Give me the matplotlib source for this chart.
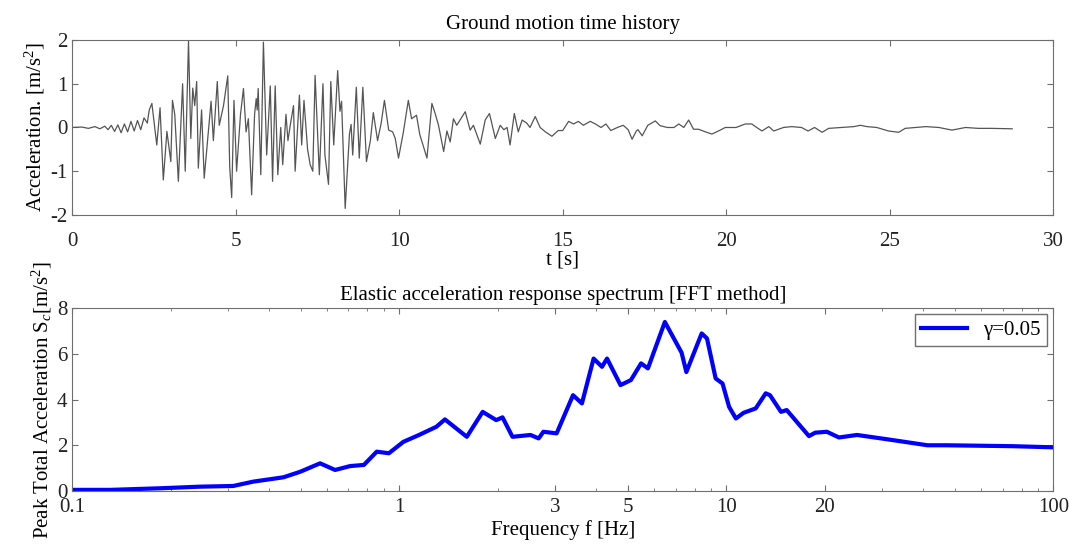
import matplotlib
matplotlib.use('Agg')
import matplotlib.pyplot as plt
from matplotlib.ticker import FixedLocator, NullFormatter, LogLocator
import numpy as np

plt.rcParams['font.family'] = ['Liberation Serif', 'DejaVu Serif']
plt.rcParams['mathtext.fontset'] = 'custom'
plt.rcParams['mathtext.rm'] = 'Liberation Serif'
plt.rcParams['mathtext.it'] = 'Liberation Serif:italic'
plt.rcParams['axes.unicode_minus'] = False

# ground motion record
t = [0, 0.3, 0.5, 0.7, 0.85, 1.0, 1.1, 1.2, 1.3, 1.4, 1.5, 1.6, 1.7, 1.8, 1.9, 2.0, 2.1, 2.2, 2.3, 2.36,
     2.44, 2.59, 2.69, 2.79, 2.9, 3.02, 3.07, 3.14, 3.25, 3.38, 3.46, 3.56, 3.63, 3.69, 3.75, 3.81, 3.86,
     3.96, 4.04, 4.12, 4.25, 4.32, 4.44, 4.5, 4.63, 4.76, 4.82, 4.88, 4.95, 5.03, 5.15, 5.24, 5.32, 5.39,
     5.49, 5.58, 5.63, 5.66, 5.69, 5.77, 5.85, 5.95, 6.06, 6.13, 6.21, 6.29, 6.38, 6.44, 6.54, 6.6, 6.67,
     6.77, 6.82, 6.95, 7.02, 7.09, 7.2, 7.28, 7.36, 7.43, 7.56, 7.67, 7.73, 7.84, 7.91, 8.0, 8.12, 8.19,
     8.24, 8.35, 8.48, 8.53, 8.58, 8.69, 8.78, 8.89, 9.0, 9.12, 9.21, 9.34, 9.45, 9.55, 9.68, 9.8, 9.88,
     9.98, 10.13, 10.28, 10.38, 10.53, 10.63, 10.85, 11.0, 11.1, 11.2, 11.36, 11.46, 11.56, 11.66, 11.76,
     11.86, 12.02, 12.17, 12.27, 12.48, 12.63, 12.76, 12.94, 13.09, 13.2, 13.3, 13.39, 13.52, 13.64,
     13.76, 13.9, 14.0, 14.16, 14.31, 14.47, 14.67, 14.86, 15.0, 15.18, 15.33, 15.48, 15.63, 15.84, 16.0,
     16.17, 16.32, 16.47, 16.67, 16.85, 17.0, 17.12, 17.25, 17.3, 17.43, 17.6, 17.83, 17.98, 18.2, 18.4,
     18.55, 18.7, 18.85, 19.0, 19.15, 19.4, 19.56, 19.76, 19.97, 20.3, 20.58, 20.78, 20.93, 21.09, 21.3,
     21.45, 21.75, 22.0, 22.3, 22.5, 22.7, 22.93, 23.13, 23.5, 23.9, 24.1, 24.3, 24.6, 24.96, 25.27,
     25.47, 25.8, 26.1, 26.5, 26.9, 27.31, 27.7, 28.1, 28.74]
acc = [0, 0.01, -0.02, 0.02, -0.03, 0.03, -0.05, 0.05, -0.09, 0.06, -0.12, 0.08, -0.1, 0.14, -0.08, 0.16, -0.05, 0.22, 0.1, 0.4,
       0.55, -0.4, 0.45, -1.2, -0.09, -0.78, 0.62, 0.3, -1.23, 1.0, -1.0, 1.98, -0.25, 0.9, 0.5, 1.05, -0.93,
       0.4, -1.16, -0.5, 0.6, -0.3, 1.05, 0.05, 0.5, 1.18, -0.9, -1.6, 0.62, -1.0, 0.3, 0.89, -0.1, 0.2,
       -1.54, 0.3, 0.66, 0.4, 0.89, -1.08, 1.95, -0.63, 0.95, -1.23, 0.95, -1.08, 0.0, -0.85, 0.3, -0.3, 0.05,
       0.5, -1.0, 0.74, -0.4, 0.62, -0.5, -0.85, -1.0, 1.19, -1.08, 1.0, -0.63, -1.3, 1.05, -0.4, 1.3, 0.37,
       0.6, -1.85, -0.15, 0.07, -0.63, 0.92, -0.7, 0.92, -0.78, -0.3, 0.34, -0.3, 0.1, 0.62, -0.06, -0.1, -0.25,
       -0.7, -0.1, 0.62, 0.2, 0.28, -0.16, -0.7, 0.55, 0.32, 0.06, -0.55, -0.08, -0.33, 0.2, 0.05,
       0.17, 0.36, -0.06, 0.05, -0.38, 0.17, 0.32, -0.25, 0.05, -0.05, 0.0, -0.4, 0.32, -0.1,
       0.17, 0.1, 0.0, 0.25, 0.0, -0.1, -0.2, -0.07, -0.07, 0.14, 0.08, 0.14, 0.05, 0.14, 0.08,
       0.0, 0.08, -0.07, 0.0, 0.05, -0.05, -0.27, -0.08, -0.05, -0.19, 0.05, 0.15, 0.04, 0.0, 0.0,
       0.08, 0.0, 0.17, -0.04, -0.04, -0.11, -0.15, -0.08, 0.0, 0.0, 0.08, 0.08, 0.0, -0.08, 0.02,
       -0.08, 0.0, 0.02, 0.0, -0.08, 0.0, -0.11, -0.02, 0.0, 0.02, 0.05, 0.02, 0.0, -0.08, -0.11,
       -0.02, 0.0, 0.02, 0.0, -0.06, 0.0, -0.02, -0.02, -0.03]

# response spectrum
freq = [0.1, 0.131, 0.186, 0.246, 0.311, 0.358, 0.443, 0.498, 0.573, 0.637, 0.708, 0.78, 0.854, 0.93,
        1.03, 1.15, 1.30, 1.38, 1.61, 1.80, 1.98, 2.07, 2.22, 2.52, 2.67, 2.76, 3.03, 3.40, 3.62, 3.93,
        4.17, 4.32, 4.75, 5.11, 5.49, 5.76, 6.49, 7.30, 7.55, 8.41, 8.73, 9.28, 9.74, 10.2, 10.7, 11.3,
        12.3, 13.2, 13.6, 14.7, 15.3, 17.9, 18.7, 20.3, 22.1, 25.1, 31.1, 36.6, 41.2, 47.0, 75, 100]
Sa = [0.05, 0.05, 0.12, 0.19, 0.22, 0.41, 0.60, 0.84, 1.21, 0.92, 1.09, 1.14, 1.72, 1.65,
      2.15, 2.45, 2.81, 3.13, 2.37, 3.46, 3.10, 3.22, 2.37, 2.45, 2.30, 2.59, 2.52, 4.19, 3.83, 5.79,
      5.43, 5.79, 4.63, 4.85, 5.58, 5.36, 7.39, 6.05, 5.2, 6.89, 6.67, 4.92, 4.70, 3.68, 3.17, 3.42,
      3.61, 4.27, 4.19, 3.46, 3.54, 2.40, 2.55, 2.59, 2.34, 2.45, 2.26, 2.11, 2.0, 2.0, 1.96, 1.91]
freq_ticks = [0.1, 1, 3, 5, 10, 20, 100]

fs = 15
edge = '#6e6e6e'

fig = plt.figure(figsize=(10.69, 5.44), dpi=100)
ax1 = fig.add_axes([0.0674, 0.6048, 0.918, 0.3217])
ax2 = fig.add_axes([0.0674, 0.0974, 0.918, 0.3364])

ax1.plot(t, acc, color='#555555', lw=0.9)
ax1.set_xlim(0, 30)
ax1.set_ylim(-2, 2)
ax1.set_xticks(range(0, 31, 5))
ax1.set_yticks([-2, -1, 0, 1, 2])
ax1.set_title('Ground motion time history', fontsize=fs, pad=8)
ax1.set_xlabel('t [s]', fontsize=fs, labelpad=0)
ax1.set_ylabel('Acceleration. [m/s$^2$]', fontsize=fs, labelpad=2)
ax1.tick_params(axis='x', pad=12)

ax2.semilogx(freq, Sa, color='#0000ff', lw=3, label='γ=0.05')
ax2.set_xlim(0.1, 100)
ax2.set_ylim(0, 8)
ax2.xaxis.set_major_locator(FixedLocator(freq_ticks))
ax2.set_xticklabels(['0.1', '1', '3', '5', '10', '20', '100'])
ax2.xaxis.set_minor_locator(LogLocator(base=10, subs=np.arange(2, 10)))
ax2.xaxis.set_minor_formatter(NullFormatter())
ax2.set_yticks([0, 2, 4, 6, 8])
ax2.set_title('Elastic acceleration response spectrum [FFT method]', fontsize=fs, pad=6)
ax2.set_xlabel('Frequency f [Hz]', fontsize=fs, labelpad=2)
ax2.set_ylabel('Peak Total Acceleration S$_c$[m/s$^2$]', fontsize=fs, labelpad=2)
ax2.tick_params(axis='x', pad=5)
leg = ax2.legend(loc='upper right', fontsize=fs, fancybox=False, handlelength=2.2,
                 borderaxespad=0.3, framealpha=1, borderpad=0.3)
leg.get_frame().set_edgecolor(edge)

for ax in (ax1, ax2):
    for s in ax.spines.values():
        s.set_color(edge)
    ax.tick_params(which='both', direction='in', top=True, right=True, colors=edge,
                   labelcolor='#222222', labelsize=fs)
    ax.tick_params(which='major', length=4)
    ax.tick_params(which='minor', length=2)

fig.savefig('out.png', dpi=100)
